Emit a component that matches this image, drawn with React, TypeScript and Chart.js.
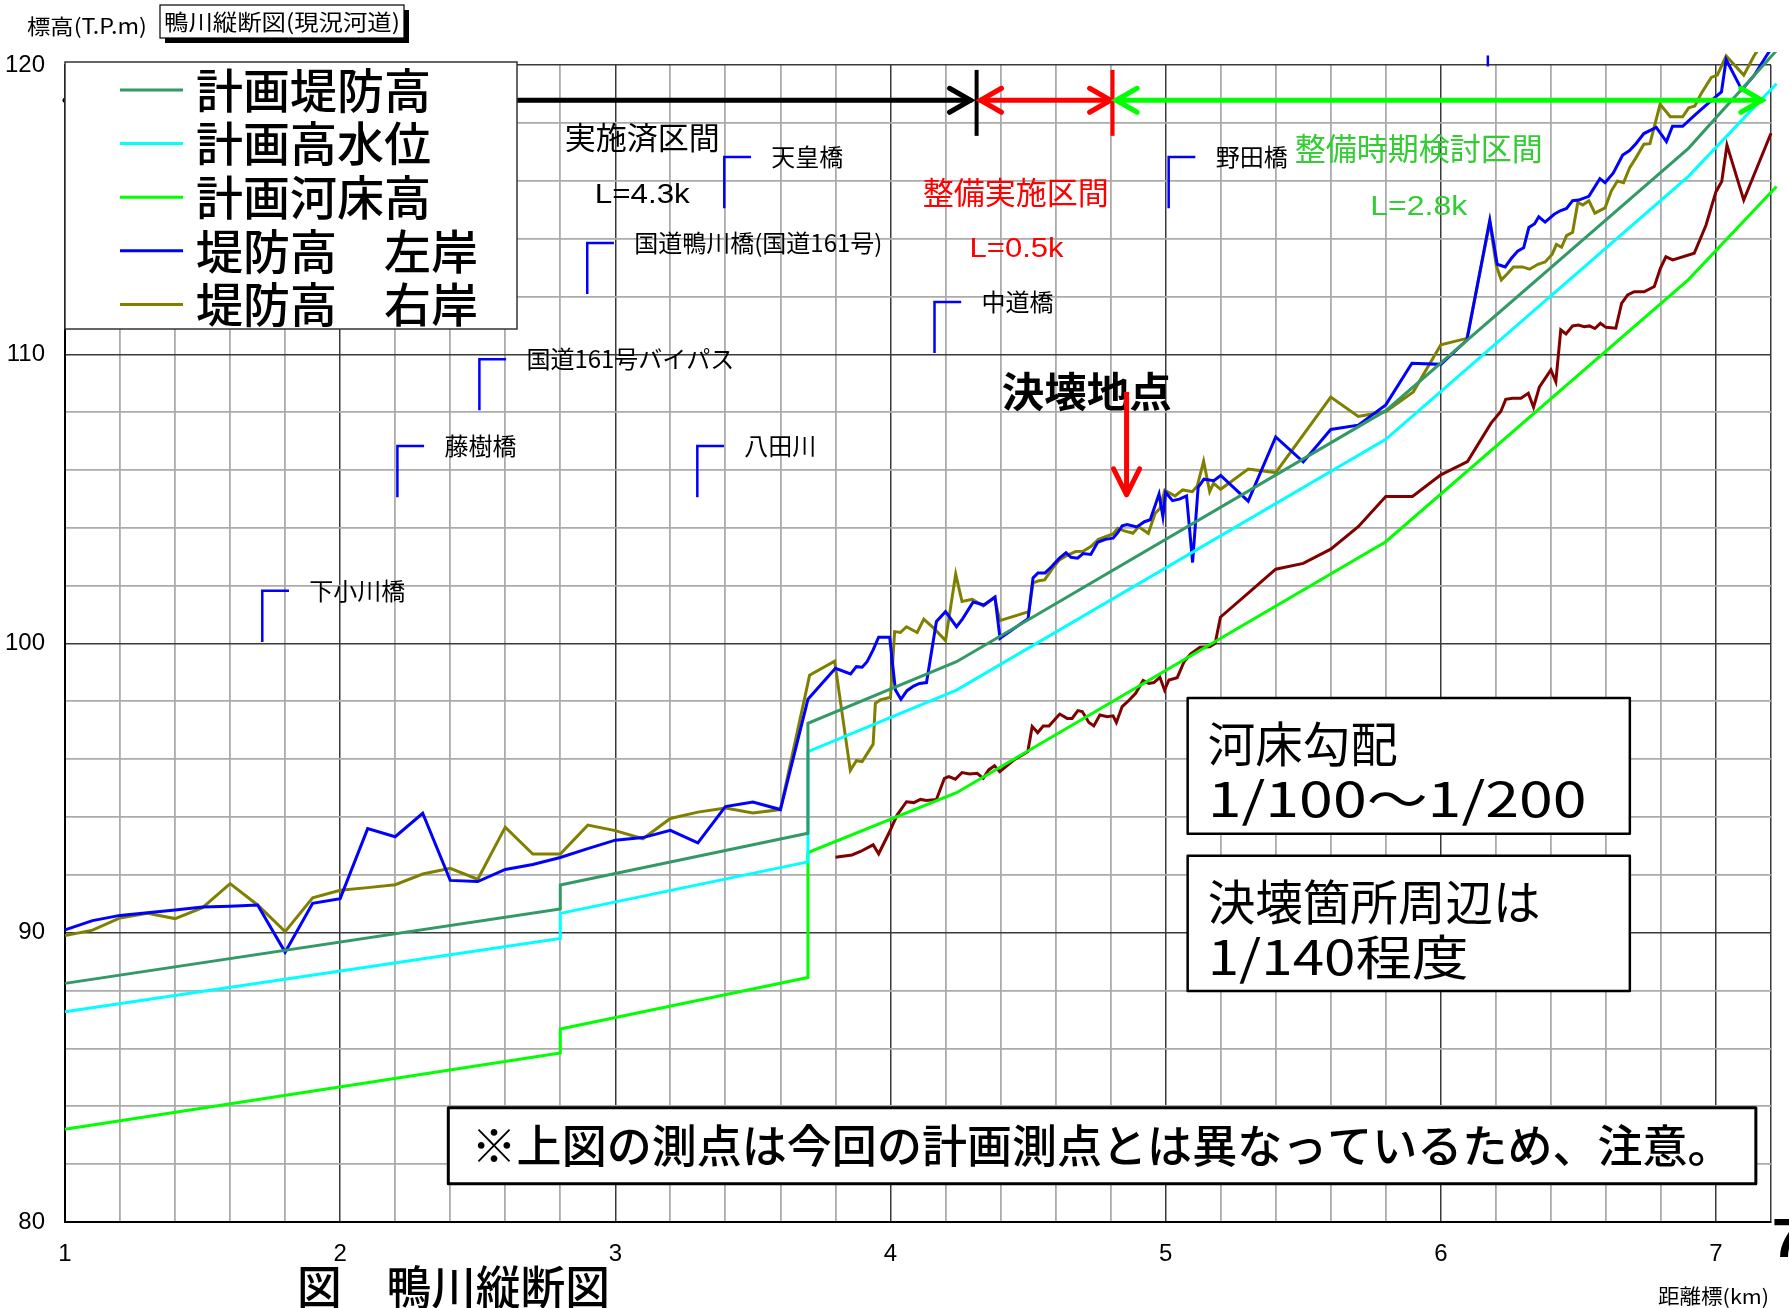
import React, { useEffect, useRef } from 'react';
import { Chart, registerables } from 'chart.js';

Chart.register(...registerables);

const CANVAS_W = 1789;
const CANVAS_H = 1308;

// ---- axes ----
const X_MIN = 1;
const X_MAX = 7.2;
const X_STEP = 0.2;
const Y_MIN = 80;
const Y_MAX = 120;
const Y_STEP = 2;

// ---- series labels / colours ----
const seriesLabels = ['計画堤防高', '計画高水位', '計画河床高', '堤防高　左岸', '堤防高　右岸', '現況最深河床高'];
const seriesColors = ['#339966', '#00FFFF', '#00FF00', '#0000FF', '#808000', '#800000'];
const legendCount = 5;

// ---- 計画堤防高 ----
const planDikeKm = [1.0, 2.8, 2.8, 3.7, 3.7, 4.24, 5.8, 6.9, 7.22];
const planDikeElev = [88.25, 90.82, 91.65, 93.44, 97.24, 99.37, 108.05, 117.12, 120.5];

// ---- 計画高水位 ----
const planHwlKm = [1.0, 2.8, 2.8, 3.7, 3.7, 4.24, 5.8, 6.9, 7.22];
const planHwlElev = [87.27, 89.8, 90.67, 92.45, 96.26, 98.39, 107.06, 116.15, 119.35];

// ---- 計画河床高 ----
const planBedKm = [1.0, 2.8, 2.8, 3.7, 3.7, 4.24, 5.8, 6.9, 7.22];
const planBedElev = [83.21, 85.84, 86.67, 88.45, 92.77, 94.84, 103.52, 112.58, 115.8];

// ---- 堤防高 左岸 ----
const leftBankKm = [
  1.0, 1.1, 1.2, 1.3, 1.4, 1.5, 1.6, 1.7, 1.8, 1.9,
  2.0, 2.1, 2.2, 2.3, 2.4, 2.5, 2.6, 2.7, 2.8, 2.9,
  3.0, 3.1, 3.2, 3.3, 3.4, 3.5, 3.6, 3.7, 3.8, 3.855,
  3.876, 3.897, 3.915, 3.937, 3.957, 3.997, 4.018, 4.038, 4.06, 4.084,
  4.106, 4.131, 4.167, 4.2, 4.24, 4.262, 4.3, 4.318, 4.339, 4.38,
  4.398, 4.5, 4.518, 4.536, 4.562, 4.586, 4.614, 4.638, 4.656, 4.68,
  4.7, 4.728, 4.753, 4.781, 4.809, 4.826, 4.842, 4.86, 4.895, 4.923,
  4.944, 4.976, 4.99, 5.0, 5.025, 5.05, 5.076, 5.098, 5.118, 5.139,
  5.175, 5.2, 5.3, 5.4, 5.5, 5.6, 5.7, 5.8, 5.895, 6.0,
  6.095, 6.178, 6.205, 6.234, 6.256, 6.279, 6.301, 6.32, 6.341, 6.356,
  6.379, 6.412, 6.434, 6.457, 6.479, 6.501, 6.538, 6.578, 6.597, 6.627,
  6.661, 6.686, 6.709, 6.738, 6.783, 6.82, 6.842, 6.879, 6.923, 6.96,
  7.005, 7.02, 7.037, 7.094, 7.138, 7.183, 7.21,
];
const leftBankElev = [
  90.1, 90.42, 90.6, 90.69, 90.79, 90.89, 90.92, 90.96, 89.33, 91.02,
  91.18, 93.6, 93.32, 94.13, 91.81, 91.77, 92.19, 92.36, 92.6, 92.91,
  93.2, 93.29, 93.54, 93.11, 94.36, 94.52, 94.26, 98.07, 99.14, 98.95,
  99.2, 99.18, 99.37, 99.78, 100.22, 100.22, 98.39, 98.07, 98.37, 98.53,
  98.62, 98.65, 100.76, 101.1, 100.58, 100.85, 101.43, 101.39, 101.33, 101.6,
  100.18, 100.86, 102.27, 102.44, 102.44, 102.66, 102.95, 103.14, 102.98, 102.95,
  103.11, 103.08, 103.5, 103.6, 103.64, 103.83, 104.07, 104.11, 104.03, 104.21,
  104.28, 105.17, 104.39, 105.23, 104.94, 104.99, 105.1, 102.8, 105.4, 105.68,
  105.63, 105.81, 104.92, 107.14, 106.28, 107.4, 107.55, 108.25, 109.69, 109.65,
  110.49, 114.63, 113.11, 113.02, 113.31, 113.56, 113.68, 114.38, 114.51, 114.75,
  114.57, 114.84, 114.96, 115.04, 115.31, 115.33, 115.46, 116.07, 115.93, 116.27,
  116.89, 117.04, 117.28, 117.63, 117.84, 117.35, 117.88, 117.88, 118.27, 118.58,
  118.95, 119.07, 120.19, 119.14, 119.63, 120.31, 120.7,
];

// ---- 堤防高 右岸 ----
const rightBankKm = [
  1.0, 1.1, 1.2, 1.3, 1.4, 1.5, 1.6, 1.7, 1.8, 1.9,
  2.0, 2.1, 2.2, 2.3, 2.4, 2.5, 2.6, 2.7, 2.8, 2.9,
  3.0, 3.1, 3.2, 3.3, 3.4, 3.5, 3.6, 3.706, 3.797, 3.854,
  3.876, 3.897, 3.937, 3.945, 3.963, 4.0, 4.015, 4.036, 4.058, 4.097,
  4.121, 4.157, 4.2, 4.237, 4.26, 4.297, 4.337, 4.378, 4.397, 4.503,
  4.518, 4.539, 4.56, 4.589, 4.614, 4.638, 4.673, 4.7, 4.728, 4.756,
  4.784, 4.809, 4.826, 4.847, 4.881, 4.902, 4.937, 4.962, 4.979, 4.997,
  5.034, 5.062, 5.097, 5.115, 5.138, 5.16, 5.174, 5.2, 5.3, 5.4,
  5.6, 5.7, 5.8, 5.9, 6.0, 6.095, 6.178, 6.202, 6.22, 6.242,
  6.264, 6.296, 6.323, 6.353, 6.379, 6.405, 6.42, 6.439, 6.457, 6.479,
  6.498, 6.516, 6.538, 6.56, 6.597, 6.62, 6.642, 6.664, 6.686, 6.709,
  6.738, 6.76, 6.797, 6.834, 6.879, 6.901, 6.923, 6.946, 6.983, 7.005,
  7.037, 7.101, 7.138, 7.2,
];
const rightBankElev = [
  89.9, 90.09, 90.51, 90.67, 90.49, 90.87, 91.7, 90.96, 90.04, 91.21,
  91.47, 91.56, 91.66, 92.03, 92.23, 91.85, 93.65, 92.72, 92.72, 93.72,
  93.53, 93.25, 93.95, 94.17, 94.31, 94.14, 94.26, 98.9, 99.39, 95.61,
  95.95, 95.92, 96.52, 97.93, 98.05, 98.14, 100.41, 100.38, 100.58, 100.38,
  100.84, 100.53, 100.1, 102.4, 101.45, 101.53, 101.3, 101.6, 100.79, 101.1,
  102.1, 102.17, 102.2, 102.6, 102.89, 103.03, 103.18, 103.19, 103.35, 103.6,
  103.7, 103.79, 103.98, 103.9, 103.81, 104.04, 103.81, 104.5, 104.67, 105.3,
  105.1, 105.31, 105.25, 105.45, 106.3, 105.25, 105.54, 105.33, 106.03, 105.91,
  108.52, 107.85, 108.02, 108.7, 110.33, 110.55, 114.56, 113.05, 112.57, 112.78,
  113.02, 113.02, 112.94, 113.11, 113.19, 113.46, 113.8, 113.7, 114.1, 114.22,
  115.25, 115.16, 115.31, 114.88, 115.06, 115.65, 115.99, 115.93, 116.44, 116.79,
  117.26, 117.28, 118.64, 118.21, 118.21, 118.52, 118.58, 119.01, 119.57, 119.65,
  120.31, 119.65, 120.31, 121.2,
];

// ---- 現況最深河床高 (not in legend) ----
const deepBedKm = [
  3.8, 3.86, 3.891, 3.937, 3.957, 3.994, 4.024, 4.058, 4.085, 4.109,
  4.131, 4.167, 4.196, 4.212, 4.236, 4.26, 4.288, 4.315, 4.337, 4.357,
  4.378, 4.397, 4.448, 4.499, 4.515, 4.535, 4.555, 4.576, 4.615, 4.642,
  4.66, 4.681, 4.697, 4.721, 4.739, 4.761, 4.788, 4.809, 4.821, 4.842,
  4.866, 4.891, 4.918, 4.939, 4.957, 4.979, 4.996, 5.012, 5.042, 5.067,
  5.091, 5.125, 5.16, 5.18, 5.199, 5.3, 5.4, 5.5, 5.6, 5.7,
  5.8, 5.897, 6.0, 6.097, 6.182, 6.218, 6.236, 6.261, 6.291, 6.318,
  6.337, 6.358, 6.4, 6.418, 6.436, 6.455, 6.479, 6.5, 6.521, 6.54,
  6.56, 6.58, 6.6, 6.636, 6.657, 6.679, 6.703, 6.739, 6.776, 6.798,
  6.818, 6.843, 6.921, 6.964, 7.0, 7.021, 7.04, 7.101, 7.2, 7.23,
];
const deepBedElev = [
  92.61, 92.69, 92.81, 93.04, 92.73, 93.44, 94.07, 94.53, 94.5, 94.61,
  94.57, 94.61, 95.34, 95.4, 95.31, 95.54, 95.49, 95.51, 95.34, 95.63,
  95.77, 95.57, 95.97, 96.26, 97.13, 96.92, 97.15, 97.15, 97.56, 97.41,
  97.41, 97.68, 97.65, 97.27, 97.15, 97.53, 97.47, 97.5, 97.27, 97.82,
  98.03, 98.28, 98.72, 98.62, 98.65, 98.83, 98.39, 98.74, 98.82, 99.37,
  99.64, 99.87, 99.89, 100.01, 100.91, 101.74, 102.57, 102.77, 103.26, 104.04,
  105.08, 105.08, 105.83, 106.29, 107.61, 108.02, 108.44, 108.48, 108.48, 108.65,
  108.17, 108.86, 109.46, 109.05, 110.84, 110.7, 110.98, 111.01, 110.95, 110.98,
  110.89, 111.07, 110.93, 110.9, 111.76, 112.05, 112.16, 112.16, 112.34, 112.97,
  113.37, 113.26, 113.49, 114.47, 115.62, 115.97, 117.23, 115.33, 117.64, 117.7,
];

// ---- bridges (name, km, top elevation of the marker) ----
const bridgeNames = ['下小川橋', '藤樹橋', '国道161号バイパス', '国道鴨川橋(国道161号)', '天皇橋', '八田川', '中道橋', '野田橋'];
const bridgeKm = [1.717, 2.208, 2.506, 2.898, 3.396, 3.298, 4.16, 5.011];
const bridgeTop = [101.82, 106.83, 109.83, 113.85, 116.82, 106.83, 111.81, 116.82];
const clippedBridgeKm = 6.171;

// ---- section arrows ----
const sectionArrowElev = 118.78;
const sectionTickTop = 119.83;
const sectionTickBottom = 117.55;
const doneSection = [1.0, 4.291];
const doneTickKm = 4.313;
const implSection = [4.327, 4.8];
const implTickKm = 4.807;
const studySection = [4.82, 7.167];

const JP = '"Noto Sans CJK JP", "Noto Sans", sans-serif';
const NUM = '"Liberation Sans Narrow", "Liberation Sans", "DejaVu Sans", sans-serif';
const LAT = '"Liberation Sans", "DejaVu Sans", sans-serif';

const sectionTexts = [
  { s: '実施済区間', km: 3.098, m: 117.51, color: '#000000', font: `31px ${JP}`, w: 0 },
  { s: 'L=4.3k', km: 3.098, m: 115.51, color: '#000000', font: `28px ${LAT}`, w: 95 },
  { s: '整備実施区間', km: 4.455, m: 115.61, color: '#FF0000', font: `31px ${JP}`, w: 0 },
  { s: 'L=0.5k', km: 4.458, m: 113.64, color: '#FF0000', font: `28px ${LAT}`, w: 94 },
  { s: '整備時期検討区間', km: 5.92, m: 117.13, color: '#33CC33', font: `31px ${JP}`, w: 0 },
  { s: 'L=2.8k', km: 5.92, m: 115.09, color: '#33CC33', font: `28px ${LAT}`, w: 97 },
];

const breachLabel = '決壊地点';
const breachLabelPos = [4.713, 108.73];
const breachArrowKm = 4.858;
const breachArrowElev = [108.7, 105.14];

const noteBoxes = [
  { lines: ['河床勾配', '1/100～1/200'], widths: [190, 379], km: [5.08, 6.687], m: [98.12, 93.42] },
  { lines: ['決壊箇所周辺は', '1/140程度'], widths: [333, 261], km: [5.08, 6.687], m: [92.66, 87.99] },
];
const cautionText = '※上図の測点は今回の計画測点とは異なっているため、注意。';
const cautionBox = { km: [2.393, 7.145], m: [83.95, 81.32] };

function drawText(
  ctx: CanvasRenderingContext2D, s: string, x: number, y: number, font: string, color: string,
  align: 'left' | 'center' | 'right' = 'left', targetW = 0,
) {
  ctx.save();
  ctx.font = font;
  ctx.fillStyle = color;
  ctx.textBaseline = 'middle';
  ctx.textAlign = 'left';
  const w = ctx.measureText(s).width;
  const sx = targetW > 0 ? targetW / w : 1;
  const dw = w * sx;
  let left = x;
  if (align === 'center') left = x - dw / 2;
  else if (align === 'right') left = x - dw;
  ctx.translate(left, y);
  ctx.scale(sx, 1);
  ctx.fillText(s, 0, 0);
  ctx.restore();
}

function chevron(ctx: CanvasRenderingContext2D, tx: number, ty: number, dx: number, dy: number, len: number, half: number) {
  const bx = tx - dx * len;
  const by = ty - dy * len;
  const nx = -dy;
  const ny = dx;
  ctx.beginPath();
  ctx.moveTo(bx + nx * half, by + ny * half);
  ctx.lineTo(tx, ty);
  ctx.lineTo(bx - nx * half, by - ny * half);
  ctx.stroke();
}

const isInt = (v: number) => Math.abs(v - Math.round(v)) < 1e-6;

const annotationPlugin = {
  id: 'kamoAnnotations',
  afterDatasetsDraw(chart: any) {
    const { ctx, scales } = chart;
    const px = (v: number) => scales.x.getPixelForValue(v);
    const py = (v: number) => scales.y.getPixelForValue(v);
    ctx.save();

    // bridge markers
    ctx.strokeStyle = '#0000FF';
    ctx.lineWidth = 2.5;
    ctx.lineJoin = 'miter';
    bridgeNames.forEach((name, i) => {
      const x = px(bridgeKm[i]);
      const yt = py(bridgeTop[i]);
      const yb = py(bridgeTop[i] - 1.77);
      ctx.beginPath();
      ctx.moveTo(x, yb);
      ctx.lineTo(x, yt);
      ctx.lineTo(px(bridgeKm[i] + 0.097), yt);
      ctx.stroke();
      drawText(ctx, name, x + 47, yt, `24px ${JP}`, '#000000');
    });
    ctx.beginPath();
    ctx.moveTo(px(clippedBridgeKm), py(Y_MAX - 0.05));
    ctx.lineTo(px(clippedBridgeKm), py(Y_MAX + 0.33));
    ctx.stroke();

    // section arrows
    const ay = py(sectionArrowElev);
    ctx.lineCap = 'round';
    ctx.lineWidth = 5;
    ctx.strokeStyle = '#000000';
    ctx.beginPath();
    ctx.moveTo(px(doneSection[0]), ay);
    ctx.lineTo(px(doneSection[1]), ay);
    ctx.stroke();
    chevron(ctx, px(doneSection[1]), ay, 1, 0, 21, 12);
    ctx.lineWidth = 4;
    ctx.lineCap = 'butt';
    ctx.beginPath();
    ctx.moveTo(px(doneTickKm), py(sectionTickTop));
    ctx.lineTo(px(doneTickKm), py(sectionTickBottom));
    ctx.stroke();

    ctx.strokeStyle = '#FF0000';
    ctx.lineCap = 'round';
    ctx.lineWidth = 5;
    ctx.beginPath();
    ctx.moveTo(px(implSection[0]), ay);
    ctx.lineTo(px(implSection[1]), ay);
    ctx.stroke();
    chevron(ctx, px(implSection[0]), ay, -1, 0, 21, 12);
    chevron(ctx, px(implSection[1]), ay, 1, 0, 21, 12);
    ctx.lineWidth = 4;
    ctx.lineCap = 'butt';
    ctx.beginPath();
    ctx.moveTo(px(implTickKm), py(sectionTickTop));
    ctx.lineTo(px(implTickKm), py(sectionTickBottom));
    ctx.stroke();

    ctx.strokeStyle = '#00FF00';
    ctx.lineCap = 'round';
    ctx.lineWidth = 5;
    ctx.beginPath();
    ctx.moveTo(px(studySection[0]), ay);
    ctx.lineTo(px(studySection[1]), ay);
    ctx.stroke();
    chevron(ctx, px(studySection[0]), ay, -1, 0, 21, 12);
    chevron(ctx, px(studySection[1]), ay, 1, 0, 21, 12);

    sectionTexts.forEach((t) => drawText(ctx, t.s, px(t.km), py(t.m), t.font, t.color, 'center', t.w));

    // breach point
    drawText(ctx, breachLabel, px(breachLabelPos[0]), py(breachLabelPos[1]), `bold 41px ${JP}`, '#000000', 'center', 170);
    ctx.strokeStyle = '#FF0000';
    ctx.lineWidth = 5;
    ctx.lineCap = 'butt';
    const bx = px(breachArrowKm);
    const by0 = py(breachArrowElev[0]);
    const by1 = py(breachArrowElev[1]);
    ctx.beginPath();
    ctx.moveTo(bx, by0);
    ctx.lineTo(bx, by1 - 3);
    ctx.stroke();
    ctx.lineCap = 'round';
    ctx.lineJoin = 'round';
    chevron(ctx, bx, by1, 0, 1, 26, 13);

    // note boxes
    noteBoxes.forEach((b) => {
      const x0 = px(b.km[0]);
      const x1 = px(b.km[1]);
      const y0 = py(b.m[0]);
      const y1 = py(b.m[1]);
      ctx.fillStyle = '#FFFFFF';
      ctx.fillRect(x0, y0, x1 - x0, y1 - y0);
      ctx.strokeStyle = '#000000';
      ctx.lineWidth = 2.5;
      ctx.strokeRect(x0, y0, x1 - x0, y1 - y0);
      drawText(ctx, b.lines[0], x0 + 20, y0 + 46, `48px ${JP}`, '#000000', 'left', b.widths[0]);
      drawText(ctx, b.lines[1], x0 + 20, y0 + 101, `48px ${JP}`, '#000000', 'left', b.widths[1]);
    });
    {
      const x0 = px(cautionBox.km[0]);
      const x1 = px(cautionBox.km[1]);
      const y0 = py(cautionBox.m[0]);
      const y1 = py(cautionBox.m[1]);
      ctx.fillStyle = '#FFFFFF';
      ctx.fillRect(x0, y0, x1 - x0, y1 - y0);
      ctx.strokeStyle = '#000000';
      ctx.lineWidth = 3;
      ctx.strokeRect(x0, y0, x1 - x0, y1 - y0);
      drawText(ctx, cautionText, (x0 + x1) / 2, (y0 + y1) / 2, `500 45px ${JP}`, '#000000', 'center', 1261);
    }
    ctx.restore();
  },
  afterDraw(chart: any) {
    const { ctx, chartArea } = chart;
    ctx.save();
    // legend box over the plot
    const lx = chartArea.left;
    const ly = chartArea.top - 3;
    const lw = 452;
    const lh = 267;
    ctx.fillStyle = '#FFFFFF';
    ctx.fillRect(lx, ly, lw, lh);
    ctx.strokeStyle = '#333333';
    ctx.lineWidth = 1.5;
    ctx.strokeRect(lx, ly, lw, lh);
    const ds = chart.data.datasets;
    for (let i = 0; i < legendCount; i++) {
      const cy = ly + 28 + i * 53.6;
      ctx.strokeStyle = ds[i].borderColor;
      ctx.lineWidth = 3;
      ctx.lineCap = 'butt';
      ctx.beginPath();
      ctx.moveTo(lx + 55, cy);
      ctx.lineTo(lx + 118, cy);
      ctx.stroke();
      drawText(ctx, ds[i].label, lx + 131, cy, `500 47px ${JP}`, '#000000');
    }

    // header texts
    drawText(ctx, '標高(T.P.m)', 27, 26, `21px ${JP}`, '#000000', 'left', 120);
    ctx.fillStyle = '#000000';
    ctx.fillRect(165, 10, 244, 33);
    ctx.fillStyle = '#FFFFFF';
    ctx.fillRect(160, 5, 244, 33);
    ctx.strokeStyle = '#000000';
    ctx.lineWidth = 1.2;
    ctx.strokeRect(160, 5, 244, 33);
    drawText(ctx, '鴨川縦断図(現況河道)', 164, 22, `22px ${JP}`, '#000000', 'left', 236);

    // bottom title over the tick labels
    ctx.fillStyle = '#FFFFFF';
    ctx.fillRect(290, 1265, 330, 43);
    drawText(ctx, '図　鴨川縦断図', 297, 1287, `500 46px ${JP}`, '#000000', 'left', 313);
    drawText(ctx, '距離標(km)', 1658, 1296, `20px ${JP}`, '#000000', 'left', 111);
    drawText(ctx, '7', 1772, 1242, `bold 56px ${NUM}`, '#000000', 'left');
    ctx.restore();
  },
};

function pts(xs: number[], ys: number[]) {
  return xs.map((x, i) => ({ x, y: ys[i] }));
}

export default function App() {
  const ref = useRef<HTMLCanvasElement>(null);
  useEffect(() => {
    const canvas = ref.current;
    if (!canvas) return;
    const seriesKm = [planDikeKm, planHwlKm, planBedKm, leftBankKm, rightBankKm, deepBedKm];
    const seriesElev = [planDikeElev, planHwlElev, planBedElev, leftBankElev, rightBankElev, deepBedElev];
    const datasets = seriesLabels.map((label, i) => ({
      label,
      data: pts(seriesKm[i], seriesElev[i]),
      borderColor: seriesColors[i],
      backgroundColor: seriesColors[i],
      borderWidth: 3,
      pointRadius: 0,
      tension: 0,
      fill: false,
      clip: { left: 2, top: 13, right: 20, bottom: 2 },
    }));
    const chart = new Chart(canvas, {
      type: 'line',
      data: { datasets } as any,
      options: {
        responsive: false,
        animation: false,
        devicePixelRatio: 1,
        layout: { padding: { left: 0, top: 65, right: 18, bottom: 0 } },
        plugins: {
          legend: { display: false },
          tooltip: { enabled: false },
          title: { display: false },
        },
        scales: {
          x: {
            type: 'linear',
            min: X_MIN,
            max: X_MAX,
            ticks: {
              stepSize: X_STEP,
              autoSkip: false,
              maxRotation: 0,
              minRotation: 0,
              padding: 18,
              color: '#000000',
              font: { family: NUM, size: 24 },
              callback: (v: any) => {
                const n = Number(v);
                return isInt(n) && n < X_MAX - 0.1 ? String(Math.round(n)) : '';
              },
            },
            grid: {
              drawTicks: false,
              color: (c: any) => {
                const v = c.tick ? c.tick.value : 0;
                return isInt(v) || Math.abs(v - X_MAX) < 1e-6 ? '#3a3a3a' : '#ababab';
              },
              lineWidth: (c: any) => {
                const v = c.tick ? c.tick.value : 0;
                return isInt(v) || Math.abs(v - X_MAX) < 1e-6 ? 1.5 : 1.8;
              },
            },
            border: { display: true, color: '#000000', width: 2 },
            afterFit: (s: any) => { s.height = 86; },
          },
          y: {
            type: 'linear',
            min: Y_MIN,
            max: Y_MAX,
            ticks: {
              stepSize: Y_STEP,
              autoSkip: false,
              padding: 20,
              color: '#000000',
              font: { family: NUM, size: 24 },
              callback: (v: any) => {
                const n = Number(v);
                return Math.abs(n % 10) < 1e-6 ? String(Math.round(n)) : '';
              },
            },
            grid: {
              drawTicks: false,
              color: (c: any) => {
                const v = c.tick ? c.tick.value : 0;
                return Math.abs(v % 10) < 1e-6 ? '#3a3a3a' : '#ababab';
              },
              lineWidth: (c: any) => {
                const v = c.tick ? c.tick.value : 0;
                return Math.abs(v % 10) < 1e-6 ? 1.5 : 1.8;
              },
            },
            border: { display: true, color: '#000000', width: 2 },
            afterFit: (s: any) => { s.width = 65; },
          },
        },
      } as any,
      plugins: [annotationPlugin],
    });
    return () => chart.destroy();
  }, []);
  return (
    <div style={{ position: 'absolute', left: 0, top: 0, width: CANVAS_W, height: CANVAS_H, background: '#FFFFFF' }}>
      <canvas ref={ref} width={CANVAS_W} height={CANVAS_H} style={{ display: 'block', width: CANVAS_W, height: CANVAS_H }} />
    </div>
  );
}
